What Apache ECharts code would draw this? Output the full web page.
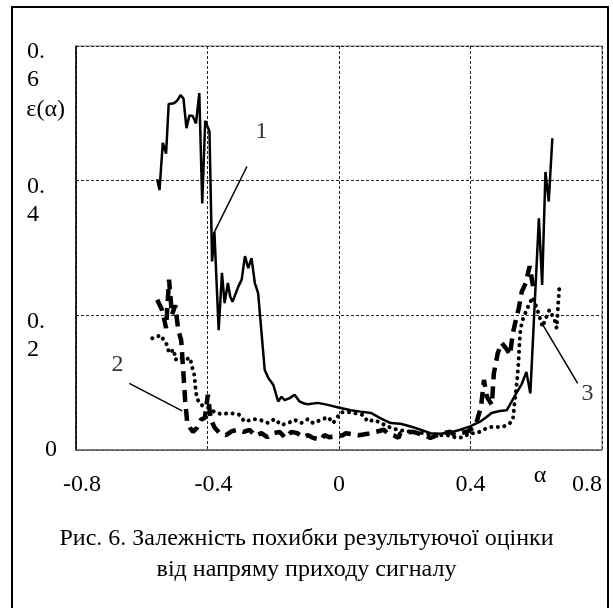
<!DOCTYPE html>
<html>
<head>
<meta charset="utf-8">
<script src="https://cdn.jsdelivr.net/npm/echarts@6/dist/echarts.min.js"></script>
<style>
  html, body { margin: 0; padding: 0; background: #fff; }
  #chart { width: 613px; height: 608px; }
</style>
</head>
<body>
<div id="chart"></div>
<script>
// axis ticks
const xTicks = [-0.8, -0.4, 0, 0.4, 0.8];
const yTicks = [0, 0.2, 0.4, 0.6];

// curve 1 (solid)
const s1X = [-0.553, -0.546, -0.536, -0.526, -0.518, -0.502, -0.492, -0.482, -0.473, -0.464,
    -0.455, -0.445, -0.435, -0.425, -0.416, -0.407, -0.394, -0.386, -0.379, -0.366,
    -0.356, -0.348, -0.338, -0.331, -0.324, -0.306, -0.296, -0.286, -0.276, -0.266,
    -0.256, -0.246, -0.226, -0.215, -0.200, -0.185, -0.175, -0.165, -0.150, -0.135,
    -0.120, -0.105, -0.095, -0.064, -0.034, -0.002, 0.036, 0.066, 0.097, 0.127,
    0.157, 0.187, 0.218, 0.248, 0.278, 0.308, 0.338, 0.369, 0.399, 0.429,
    0.449, 0.464, 0.489, 0.510, 0.525, 0.540, 0.555, 0.570, 0.582, 0.608,
    0.618, 0.628, 0.638, 0.649];
const s1Y = [0.402, 0.386, 0.456, 0.440, 0.514, 0.515, 0.519, 0.527, 0.522, 0.478,
    0.497, 0.496, 0.485, 0.530, 0.366, 0.489, 0.473, 0.280, 0.324, 0.178,
    0.263, 0.218, 0.248, 0.228, 0.220, 0.243, 0.253, 0.288, 0.270, 0.285,
    0.248, 0.233, 0.119, 0.107, 0.097, 0.072, 0.079, 0.074, 0.077, 0.082,
    0.072, 0.069, 0.068, 0.070, 0.067, 0.063, 0.059, 0.057, 0.055, 0.047,
    0.040, 0.039, 0.035, 0.030, 0.025, 0.024, 0.026, 0.030, 0.035, 0.042,
    0.049, 0.055, 0.058, 0.059, 0.072, 0.085, 0.097, 0.116, 0.084, 0.344,
    0.245, 0.413, 0.369, 0.463];

// curve 2 (dashed)
const s2X = [-0.553, -0.538, -0.526, -0.517, -0.508, -0.498, -0.489, -0.480, -0.474, -0.468,
    -0.462, -0.453, -0.444, -0.432, -0.420, -0.408, -0.399, -0.390, -0.378, -0.363,
    -0.344, -0.326, -0.308, -0.290, -0.272, -0.254, -0.236, -0.218, -0.199, -0.181,
    -0.163, -0.145, -0.127, -0.109, -0.094, -0.079, -0.054, -0.045, -0.030, 0.012,
    0.021, 0.060, 0.088, 0.136, 0.148, 0.166, 0.181, 0.187, 0.224, 0.239,
    0.257, 0.278, 0.299, 0.317, 0.338, 0.353, 0.369, 0.390, 0.408, 0.417,
    0.432, 0.441, 0.450, 0.465, 0.471, 0.483, 0.495, 0.511, 0.520, 0.529,
    0.538, 0.547, 0.556, 0.568, 0.580, 0.592];
const s2Y = [0.223, 0.208, 0.181, 0.253, 0.201, 0.215, 0.178, 0.163, 0.119, 0.074,
    0.042, 0.033, 0.027, 0.033, 0.045, 0.048, 0.082, 0.045, 0.033, 0.025,
    0.022, 0.028, 0.030, 0.027, 0.030, 0.021, 0.025, 0.019, 0.025, 0.027,
    0.018, 0.027, 0.025, 0.019, 0.022, 0.018, 0.015, 0.022, 0.019, 0.022,
    0.025, 0.022, 0.024, 0.030, 0.025, 0.022, 0.018, 0.025, 0.027, 0.025,
    0.022, 0.018, 0.022, 0.025, 0.027, 0.022, 0.025, 0.027, 0.033, 0.039,
    0.064, 0.104, 0.079, 0.067, 0.114, 0.144, 0.159, 0.149, 0.141, 0.174,
    0.193, 0.211, 0.235, 0.248, 0.273, 0.238];

// curve 3 (dotted)
const s3X = [-0.568, -0.553, -0.544, -0.532, -0.523, -0.517, -0.502, -0.498, -0.486, -0.468,
    -0.453, -0.447, -0.441, -0.438, -0.436, -0.432, -0.423, -0.408, -0.393, -0.378,
    -0.356, -0.335, -0.305, -0.287, -0.260, -0.242, -0.215, -0.196, -0.175, -0.154,
    -0.136, -0.115, -0.094, -0.079, -0.063, -0.048, -0.033, -0.018, 0.006, 0.036,
    0.073, 0.088, 0.106, 0.127, 0.157, 0.178, 0.218, 0.257, 0.287, 0.329,
    0.360, 0.378, 0.399, 0.420, 0.438, 0.459, 0.480, 0.498, 0.520, 0.529,
    0.535, 0.541, 0.545, 0.548, 0.551, 0.556, 0.562, 0.571, 0.580, 0.589,
    0.601, 0.610, 0.619, 0.631, 0.640, 0.656, 0.662, 0.666, 0.671];
const s3Y = [0.166, 0.168, 0.171, 0.163, 0.156, 0.144, 0.149, 0.134, 0.138, 0.134,
    0.137, 0.123, 0.114, 0.101, 0.089, 0.077, 0.068, 0.064, 0.062, 0.056,
    0.053, 0.055, 0.053, 0.042, 0.046, 0.045, 0.040, 0.046, 0.037, 0.040,
    0.045, 0.040, 0.046, 0.040, 0.043, 0.046, 0.049, 0.040, 0.056, 0.056,
    0.052, 0.042, 0.045, 0.040, 0.033, 0.030, 0.027, 0.025, 0.022, 0.022,
    0.018, 0.019, 0.025, 0.025, 0.030, 0.034, 0.034, 0.034, 0.040, 0.045,
    0.074, 0.100, 0.123, 0.149, 0.174, 0.189, 0.198, 0.208, 0.218, 0.227,
    0.212, 0.198, 0.183, 0.198, 0.208, 0.193, 0.181, 0.212, 0.248];

// curve numbers and their leader lines (data coords)
const curveNames = ['1', '2', '3'];
const nameX = [-0.236, -0.674, 0.756];
const nameY = [0.473, 0.126, 0.084];
const leaderFrom = [[-0.280, 0.421], [-0.638, 0.099], [0.726, 0.099]];
const leaderTo = [[-0.379, 0.324], [-0.477, 0.058], [0.620, 0.186]];

const caption = 'Рис. 6. Залежність похибки результуючої оцінки\nвід напряму приходу сигналу';

const font = 'Liberation Serif';
const zip = (xs, ys) => xs.map((x, i) => [x, ys[i]]);

const chart = echarts.init(document.getElementById('chart'));

const leaderSeries = leaderFrom.map((p, i) => ({
    type: 'line',
    data: [p, leaderTo[i]],
    symbol: 'none',
    silent: true,
    lineStyle: { color: '#000', width: 1.5 }
}));

const option = {
    animation: false,
    backgroundColor: '#fff',
    textStyle: { fontFamily: font },
    title: {
        text: caption,
        left: 'center',
        top: 518,
        textStyle: {
            fontFamily: font,
            fontSize: 24,
            fontWeight: 'normal',
            color: '#000',
            lineHeight: 31
        }
    },
    graphic: [{
        type: 'rect',
        shape: { x: 12, y: 7, width: 596, height: 640 },
        style: { fill: 'none', stroke: '#000', lineWidth: 2 },
        silent: true
    }],
    grid: {
        left: 76, right: 11, top: 46, bottom: 158,
        show: true,
        borderColor: '#777',
        borderWidth: 1
    },
    xAxis: {
        type: 'value',
        min: xTicks[0],
        max: xTicks[xTicks.length - 1],
        interval: 0.4,
        name: 'α',
        nameLocation: 'end',
        nameGap: -62,
        nameTextStyle: {
            fontFamily: font, fontSize: 24, color: '#000',
            align: 'center', verticalAlign: 'top', padding: [14, 0, 0, 0]
        },
        axisLine: { show: true, onZero: false, lineStyle: { color: '#666', width: 1.5, type: [2, 1] } },
        axisTick: { show: false },
        splitLine: { show: true, lineStyle: { color: '#222', width: 1, type: [3, 2] } },
        axisLabel: {
            fontFamily: font, fontSize: 24, color: '#000', lineHeight: 24,
            margin: 23,
            alignMaxLabel: 'right',
            formatter: v => v < 0 ? '{n|' + v + '}' : String(v),
            rich: { n: { fontFamily: font, fontSize: 24, padding: [0, 0, 0, 12] } }
        }
    },
    yAxis: {
        type: 'value',
        min: yTicks[0],
        max: yTicks[yTicks.length - 1],
        interval: 0.2,
        name: 'ε(α)',
        nameLocation: 'end',
        nameGap: -64,
        nameTextStyle: {
            fontFamily: font, fontSize: 24, color: '#000',
            align: 'right', verticalAlign: 'middle', padding: [0, 11, 0, 0]
        },
        axisLine: { show: true, onZero: false, lineStyle: { color: '#000', width: 1.5 } },
        axisTick: { show: false },
        splitLine: { show: true, lineStyle: { color: '#222', width: 1, type: [3, 2] } },
        axisLabel: {
            fontFamily: font, fontSize: 24, color: '#000',
            align: 'left',
            margin: 49,
            formatter: v => {
                if (v === 0) return '{z|0}';
                const s = v.toFixed(1);
                return '{s| }\n{n|0.}\n{n|' + s.slice(2) + '}';
            },
            rich: {
                z: { fontFamily: font, fontSize: 24, padding: [0, 0, 0, 18] },
                s: { fontSize: 10, lineHeight: 40 },
                n: { fontFamily: font, fontSize: 24, lineHeight: 28 }
            }
        }
    },
    series: [
        {
            name: '1',
            type: 'line',
            data: zip(s1X, s1Y),
            symbol: 'none',
            lineStyle: { color: '#000', width: 2.5 }
        },
        {
            name: '2',
            type: 'line',
            data: zip(s2X, s2Y),
            symbol: 'none',
            lineStyle: { color: '#000', width: 4.5, type: [12, 7] }
        },
        {
            name: '3',
            type: 'line',
            data: zip(s3X, s3Y),
            symbol: 'none',
            lineStyle: { color: '#000', width: 4, type: [0.1, 6.5], cap: 'round' }
        },
        ...leaderSeries,
        {
            type: 'scatter',
            data: curveNames.map((n, i) => [nameX[i], nameY[i], n]),
            symbolSize: 0,
            silent: true,
            label: {
                show: true,
                position: 'inside',
                formatter: p => p.value[2],
                fontFamily: font,
                fontSize: 24,
                color: '#000'
            }
        }
    ]
};

chart.setOption(option);
</script>
</body>
</html>
